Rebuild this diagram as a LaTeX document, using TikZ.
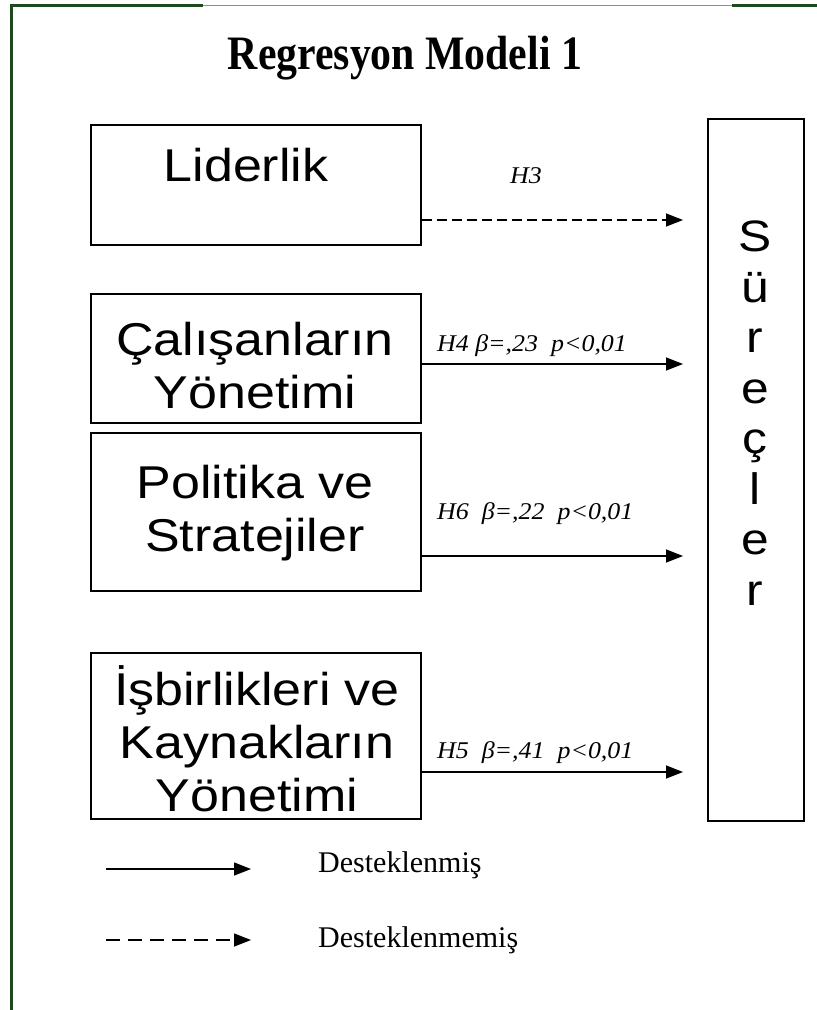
\documentclass[tikz,border=0pt]{standalone}
\usepackage{fontspec}
\setmainfont{Liberation Serif}
\newfontfamily\boxfont[FakeStretch=1.13]{Liberation Sans}
\newfontfamily\labfont[FakeStretch=1.08]{Liberation Serif}
\newfontfamily\titlefont[FakeStretch=0.87]{Liberation Serif}
\usetikzlibrary{arrows.meta,calc}
\definecolor{framegreen}{HTML}{1E4A1E}
\definecolor{framegray}{HTML}{7A9A7A}

\begin{document}
\begin{tikzpicture}[x=1pt,y=-1pt,
  boxshape/.style={draw, line width=1.5pt, rectangle, inner sep=0pt, anchor=north west},
  boxtext/.style={font=\boxfont\fontsize{46}{53}\selectfont, align=center, inner sep=0pt},
  link/.style={line width=1.5pt, -{Triangle[length=17pt,width=13pt]}},
  supported/.style={link, shorten >=24pt},
  unsupported/.style={link, shorten >=24pt, dash pattern=on 10pt off 5pt},
  hyplabel/.style={font=\labfont\itshape\fontsize{24}{28}\selectfont, anchor=base west, inner sep=0pt},
  legtext/.style={font=\fontsize{30}{36}\selectfont, anchor=base west, inner sep=0pt}]

\useasboundingbox (0,0) rectangle (817,1010);

% page frame
\draw[framegreen, line width=3pt] (11,1010) -- (11,5) -- (203,5);
\draw[framegray, line width=1pt] (203,5) -- (732,5);
\draw[framegreen, line width=3pt] (732,5) -- (817,5);

% title
\node[font=\titlefont\bfseries\fontsize{48}{56}\selectfont, anchor=base, inner sep=0pt] (title) at (405,69) {Regresyon Modeli 1};

% predictor boxes
\node[boxshape, minimum width=330pt, minimum height=120pt] (lid) at (90,124) {};
\node[boxshape, minimum width=330pt, minimum height=129pt] (cal) at (90,293) {};
\node[boxshape, minimum width=330pt, minimum height=158pt] (pol) at (90,432) {};
\node[boxshape, minimum width=330pt, minimum height=166pt] (isb) at (90,652) {};

\node[boxtext] (lidtext) at (246,165) {Liderlik};
\node[boxtext] (caltext) at (255,366) {Çalışanların\\Yönetimi};
\node[boxtext] (poltext) at (255,513) {Politika ve\\Stratejiler};
\node[boxtext] (isbtext) at (257,739) {İşbirlikleri ve\\Kaynakların\\Yönetimi};

% outcome box
\node[boxshape, minimum width=96pt, minimum height=702pt] (sur) at (707,118) {};
\node[boxtext, font=\boxfont\fontsize{44}{50.5}\selectfont] (surtext) at (755,413) {S\\ü\\r\\e\\ç\\l\\e\\r};

% hypothesis paths
\coordinate (y3) at (0,220);
\coordinate (y4) at (0,364);
\coordinate (y6) at (0,556);
\coordinate (y5) at (0,772);
\draw[unsupported] (lid.east |- y3) -- (sur.west |- y3);
\draw[supported] (cal.east |- y4) -- (sur.west |- y4);
\draw[supported] (pol.east |- y6) -- (sur.west |- y6);
\draw[supported] (isb.east |- y5) -- (sur.west |- y5);

\node[hyplabel, anchor=base] (h3) at (526,183) {H3};
\node[hyplabel] (h4) at (437,351) {H4 β=,23\ \ p<0,01};
\node[hyplabel] (h6) at (437,519) {H6\ \ β=,22\ \ p<0,01};
\node[hyplabel] (h5) at (437,758) {H5\ \ β=,41\ \ p<0,01};

% legend
\coordinate (la1) at (106,869);
\coordinate (lb1) at (251,869);
\coordinate (la2) at (106,940);
\coordinate (lb2) at (251,940);
\draw[link] (la1) -- (lb1);
\draw[link, dash pattern=on 14pt off 8pt] (la2) -- (lb2);
\node[legtext] (leg1) at (318,872) {Desteklenmiş};
\node[legtext] (leg2) at (318,947) {Desteklenmemiş};
\end{tikzpicture}
\end{document}
